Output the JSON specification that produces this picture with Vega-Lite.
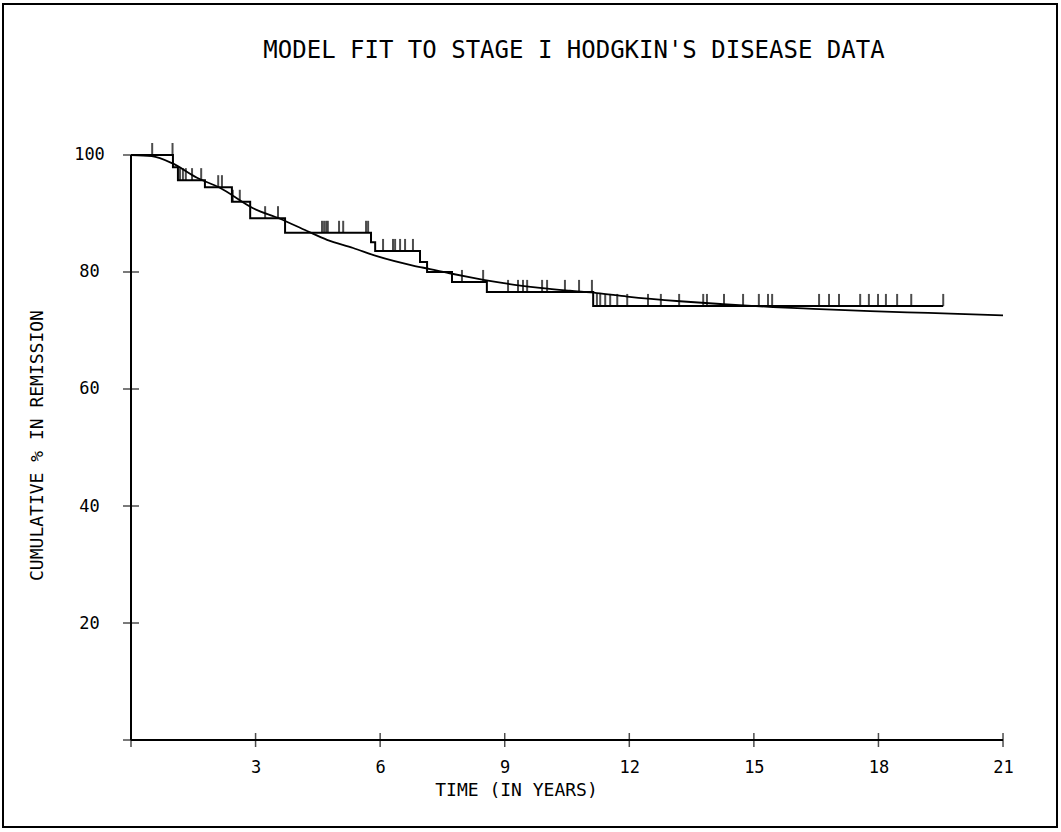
{
  "$schema": "https://vega.github.io/schema/vega-lite/v6.json",
  "width": 1054,
  "height": 823,
  "autosize": "none",
  "padding": {"left": 3, "top": 4, "right": 4, "bottom": 5},
  "background": "white",
  "config": {
    "view": {"stroke": "black", "strokeWidth": 2},
    "font": "DejaVu Sans Mono"
  },
  "title": {
    "text": "MODEL FIT TO STAGE I HODGKIN'S DISEASE DATA",
    "orient": "top",
    "anchor": "middle",
    "frame": "group",
    "offset": -58,
    "baseline": "alphabetic",
    "dx": 44,
    "dy": 20,
    "font": "DejaVu Sans Mono",
    "fontSize": 24,
    "fontWeight": "normal",
    "color": "black"
  },
  "datasets": {
    "km": [
      {"t": 0, "s": 100},
      {"t": 1.01, "s": 97.9},
      {"t": 1.13, "s": 95.7},
      {"t": 1.78, "s": 94.5},
      {"t": 2.43, "s": 92.0},
      {"t": 2.87, "s": 89.2},
      {"t": 3.71, "s": 86.7},
      {"t": 5.78, "s": 85.1},
      {"t": 5.88, "s": 83.6},
      {"t": 6.96, "s": 81.7},
      {"t": 7.13, "s": 80.0},
      {"t": 7.73, "s": 78.3},
      {"t": 8.57, "s": 76.6},
      {"t": 11.13, "s": 74.2},
      {"t": 19.56, "s": 74.2}
    ],
    "fit": [
      {"t": 0, "s": 100},
      {"t": 0.5, "s": 99.8},
      {"t": 0.99, "s": 98.6},
      {"t": 1.59, "s": 96.1},
      {"t": 2.14, "s": 94.4},
      {"t": 2.94, "s": 90.9},
      {"t": 3.59, "s": 89.1},
      {"t": 4.24, "s": 87.0},
      {"t": 4.72, "s": 85.5},
      {"t": 5.35, "s": 84.1},
      {"t": 5.92, "s": 82.7},
      {"t": 6.79, "s": 81.1},
      {"t": 7.2, "s": 80.5},
      {"t": 7.73, "s": 79.7},
      {"t": 8.24, "s": 79.0},
      {"t": 9.06, "s": 78.0},
      {"t": 9.85, "s": 77.3},
      {"t": 10.57, "s": 76.8},
      {"t": 11.22, "s": 76.4},
      {"t": 11.95, "s": 75.8},
      {"t": 13.22, "s": 75.0},
      {"t": 14.26, "s": 74.5},
      {"t": 15.46, "s": 74.0},
      {"t": 16.43, "s": 73.7},
      {"t": 17.8, "s": 73.3},
      {"t": 18.69, "s": 73.1},
      {"t": 19.73, "s": 72.9},
      {"t": 21.0, "s": 72.6}
    ],
    "cens": [
      {"t": 0.51, "s": 100}, {"t": 1.0, "s": 100},
      {"t": 1.18, "s": 95.7}, {"t": 1.25, "s": 95.7}, {"t": 1.32, "s": 95.7}, {"t": 1.47, "s": 95.7}, {"t": 1.69, "s": 95.7},
      {"t": 2.10, "s": 94.5}, {"t": 2.19, "s": 94.5},
      {"t": 2.45, "s": 92.0}, {"t": 2.62, "s": 92.0},
      {"t": 3.23, "s": 89.2}, {"t": 3.54, "s": 89.2},
      {"t": 4.60, "s": 86.7}, {"t": 4.65, "s": 86.7}, {"t": 4.70, "s": 86.7}, {"t": 4.74, "s": 86.7}, {"t": 5.01, "s": 86.7}, {"t": 5.11, "s": 86.7}, {"t": 5.66, "s": 86.7}, {"t": 5.71, "s": 86.7},
      {"t": 6.07, "s": 83.6}, {"t": 6.31, "s": 83.6}, {"t": 6.36, "s": 83.6}, {"t": 6.48, "s": 83.6}, {"t": 6.60, "s": 83.6}, {"t": 6.79, "s": 83.6},
      {"t": 7.97, "s": 78.3}, {"t": 8.48, "s": 78.3},
      {"t": 9.08, "s": 76.6}, {"t": 9.32, "s": 76.6}, {"t": 9.44, "s": 76.6}, {"t": 9.54, "s": 76.6}, {"t": 9.90, "s": 76.6}, {"t": 10.02, "s": 76.6}, {"t": 10.45, "s": 76.6}, {"t": 10.79, "s": 76.6}, {"t": 11.10, "s": 76.6},
      {"t": 11.22, "s": 74.2}, {"t": 11.30, "s": 74.2}, {"t": 11.42, "s": 74.2}, {"t": 11.54, "s": 74.2}, {"t": 11.71, "s": 74.2}, {"t": 11.95, "s": 74.2},
      {"t": 12.45, "s": 74.2}, {"t": 12.76, "s": 74.2}, {"t": 13.20, "s": 74.2}, {"t": 13.78, "s": 74.2}, {"t": 13.87, "s": 74.2}, {"t": 14.28, "s": 74.2},
      {"t": 14.74, "s": 74.2}, {"t": 15.12, "s": 74.2}, {"t": 15.34, "s": 74.2}, {"t": 15.44, "s": 74.2}, {"t": 16.57, "s": 74.2}, {"t": 16.81, "s": 74.2},
      {"t": 17.05, "s": 74.2}, {"t": 17.56, "s": 74.2}, {"t": 17.77, "s": 74.2}, {"t": 17.99, "s": 74.2}, {"t": 18.18, "s": 74.2}, {"t": 18.45, "s": 74.2},
      {"t": 18.79, "s": 74.2}, {"t": 19.56, "s": 74.2}
    ],
    "xt": [{"v": 0}, {"v": 3}, {"v": 6}, {"v": 9}, {"v": 12}, {"v": 15}, {"v": 18}, {"v": 21}],
    "yt": [{"v": 0}, {"v": 20}, {"v": 40}, {"v": 60}, {"v": 80}, {"v": 100}],
    "one": [{}]
  },
  "layer": [
    {
      "data": {"name": "km"},
      "mark": {"type": "line", "interpolate": "step-after", "color": "black", "strokeWidth": 2},
      "encoding": {
        "x": {
          "field": "t", "type": "quantitative",
          "scale": {"domain": [-3.0826, 22.3], "nice": false, "zero": false},
          "axis": {
            "values": [3, 6, 9, 12, 15, 18, 21],
            "domain": false, "ticks": false, "grid": false,
            "offset": -87,
            "labelPadding": 19,
            "labelFont": "DejaVu Sans Mono", "labelFontSize": 17, "labelColor": "black",
            "title": "TIME (IN YEARS)",
            "titleFont": "DejaVu Sans Mono", "titleFontSize": 18, "titleFontWeight": "normal", "titleColor": "black",
            "titleX": 513, "titleY": 50, "titleBaseline": "middle", "titleAnchor": "middle"
          }
        },
        "y": {
          "field": "s", "type": "quantitative",
          "scale": {"domain": [-14.87, 125.81], "nice": false, "zero": false},
          "axis": {
            "values": [20, 40, 60, 80, 100],
            "domain": false, "ticks": false, "grid": false,
            "offset": -128,
            "labelPadding": 42, "labelAlign": "center", "labelBaseline": "middle",
            "labelFont": "DejaVu Sans Mono", "labelFontSize": 17, "labelColor": "black",
            "title": "CUMULATIVE % IN REMISSION",
            "titleFont": "DejaVu Sans Mono", "titleFontSize": 18, "titleFontWeight": "normal", "titleColor": "black",
            "titleX": -94, "titleY": 441, "titleAngle": -90, "titleBaseline": "middle", "titleAnchor": "middle"
          }
        }
      }
    },
    {
      "data": {"name": "fit"},
      "mark": {"type": "line", "interpolate": "monotone", "color": "black", "strokeWidth": 1.8},
      "encoding": {
        "x": {"field": "t", "type": "quantitative"},
        "y": {"field": "s", "type": "quantitative"}
      }
    },
    {
      "data": {"name": "cens"},
      "mark": {"type": "tick", "orient": "vertical", "color": "black", "size": 12, "thickness": 2, "yOffset": -6},
      "encoding": {
        "x": {"field": "t", "type": "quantitative"},
        "y": {"field": "s", "type": "quantitative"}
      }
    },
    {
      "data": {"name": "one"},
      "mark": {"type": "rule", "color": "black", "strokeWidth": 2},
      "encoding": {
        "x": {"datum": 0, "type": "quantitative"},
        "x2": {"datum": 21},
        "y": {"datum": 0, "type": "quantitative"}
      }
    },
    {
      "data": {"name": "one"},
      "mark": {"type": "rule", "color": "black", "strokeWidth": 2},
      "encoding": {
        "x": {"datum": 0, "type": "quantitative"},
        "y": {"datum": 0, "type": "quantitative"},
        "y2": {"datum": 100}
      }
    },
    {
      "data": {"name": "xt"},
      "mark": {"type": "tick", "orient": "vertical", "color": "black", "size": 14, "thickness": 1.5},
      "encoding": {
        "x": {"field": "v", "type": "quantitative"},
        "y": {"datum": 0, "type": "quantitative"}
      }
    },
    {
      "data": {"name": "yt"},
      "mark": {"type": "tick", "orient": "horizontal", "color": "black", "size": 16, "thickness": 1.5},
      "encoding": {
        "x": {"datum": 0, "type": "quantitative"},
        "y": {"field": "v", "type": "quantitative"}
      }
    }
  ]
}
